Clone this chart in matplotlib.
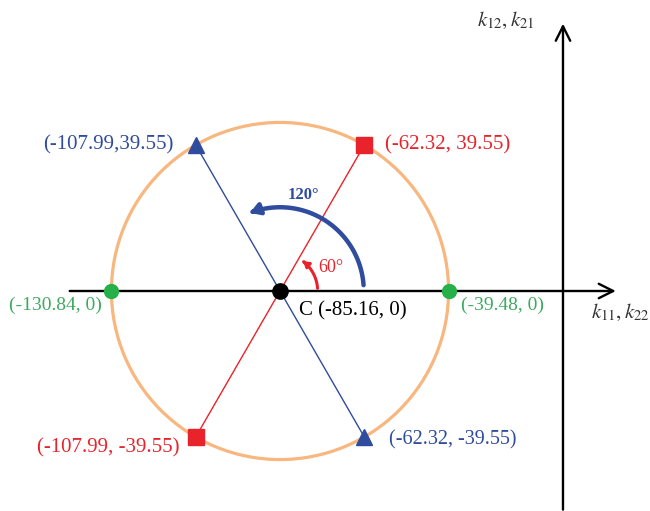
import numpy as np
import matplotlib
matplotlib.use("Agg")
import matplotlib.pyplot as plt
from matplotlib.patches import Circle, FancyArrowPatch
from matplotlib.path import Path

plt.rcParams['mathtext.fontset'] = 'stix'

# data
center = (-85.16, 0.0)
green_x = [-130.84, -39.48]
green_y = [0.0, 0.0]
red_x = [-62.32, -107.99]
red_y = [39.55, -39.55]
blue_x = [-107.99, -62.32]
blue_y = [39.55, -39.55]
radius = 45.68

red = '#E8232B'
blue = '#2F4C9E'
green = '#25B04A'
green_txt = '#3DAA60'
orange = '#F7B77E'

fig = plt.figure(figsize=(6.5, 5.11), dpi=100)
ax = fig.add_axes([0, 0, 1, 1])
ax.set_xlim(-161.04, 15.11)
ax.set_ylim(-59.62, 78.86)
ax.set_aspect('equal')
ax.axis('off')

# axes
ax.annotate('', xy=(6.6, 0), xytext=(-142.9, 0),
            arrowprops=dict(arrowstyle='->', lw=1.7, color='black', mutation_scale=26))
ax.annotate('', xy=(-8.47, 73.2), xytext=(-8.47, -60),
            arrowprops=dict(arrowstyle='->', lw=1.7, color='black', mutation_scale=26))
ax.text(-1.0, -5.8, r'$k_{11}, k_{22}$', fontsize=15, color='#333333', ha='left', va='center')
ax.text(-24.0, 73.4, r'$k_{12}, k_{21}$', fontsize=15, color='#333333', ha='center', va='center')

# circle
ax.add_patch(Circle(center, radius, fill=False, ec=orange, lw=2.3, zorder=2))

# lines through centre
ax.plot(red_x, red_y, color=red, lw=1.0, zorder=3)
ax.plot(blue_x, blue_y, color=blue, lw=1.0, zorder=3)

# angle arrows
def arc_arrow(r, a0, a1, color, lw, hl, hw):
    t = np.radians(np.linspace(a0, a1, 60))
    verts = np.column_stack([center[0] + r * np.cos(t), center[1] + r * np.sin(t)])
    p = FancyArrowPatch(path=Path(verts), arrowstyle=f'-|>,head_length={hl},head_width={hw}',
                        color=color, lw=lw, zorder=4)
    ax.add_patch(p)

arc_arrow(22.7, 4, 111, blue, 3.2, 5.5, 3.4)
arc_arrow(10.2, 4, 52, red, 2.2, 3.0, 2.0)
ax.text(-83.2, 26.0, '120°', color=blue, fontsize=12, fontweight='bold',
        family='Liberation Serif', ha='left', va='center')
ax.text(-74.8, 6.3, '60°', color=red, fontsize=13, family='Liberation Serif',
        ha='left', va='center')

# markers
ax.plot(green_x, green_y, 'o', color=green, ms=10, zorder=5)
ax.plot(red_x, red_y, 's', color=red, ms=11, zorder=5)
ax.plot(blue_x, blue_y, '^', color=blue, ms=11, zorder=5)
ax.plot(*center, 'o', color='black', ms=11, zorder=6)

font = 'Liberation Serif'
def lab(x, y, s, c, dx, dy, ha, fs=15):
    ax.annotate(s, (x, y), xytext=(dx, dy), textcoords='offset pixels',
                color=c, fontsize=fs, family=font, ha=ha, va='center')

lab(blue_x[0], blue_y[0], '(-107.99,39.55)', blue, -22, 0, 'right')
lab(red_x[0], red_y[0], '(-62.32, 39.55)', red, 21, 0, 'left')
lab(green_x[0], green_y[0], '(-130.84, 0)', green_txt, -10, -14, 'right', 14)
lab(green_x[1], green_y[1], '(-39.48, 0)', green_txt, 12, -14, 'left', 14)
lab(red_x[1], red_y[1], '(-107.99, -39.55)', red, -16, -11, 'right')
lab(blue_x[1], blue_y[1], '(-62.32, -39.55)', blue, 25, -3, 'left', 14.5)
lab(center[0], center[1], 'C (-85.16, 0)', 'black', 19, -20, 'left')

fig.savefig('out.png', dpi=100)
